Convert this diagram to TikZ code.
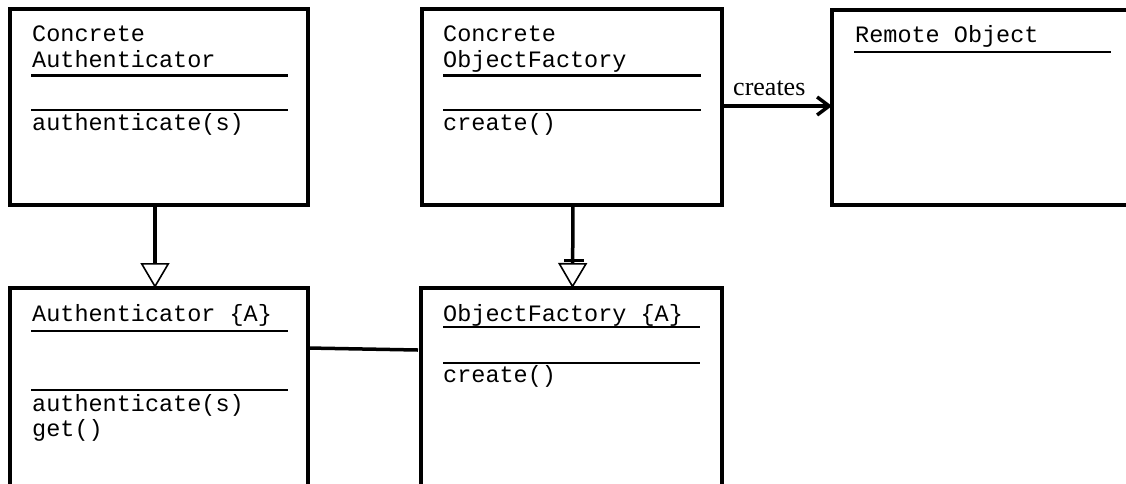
\documentclass[tikz,border=0pt]{standalone}
\usepackage{fontspec}
\setmainfont{Liberation Serif}
\setmonofont{Liberation Mono}
\usetikzlibrary{arrows.meta,calc}
\begin{document}
\begin{tikzpicture}[x=1pt,y=-1pt,
  classbox/.style={draw,line width=3.5pt,minimum width=#1,inner sep=0pt,outer sep=0pt,anchor=north west},
  txt/.style={anchor=base west,inner sep=0pt,font=\ttfamily\fontsize{23.5}{28}\selectfont},
  sep/.style={line width=2.2pt},
  inh/.style={line width=3.5pt,-{Triangle[open,width=29pt,length=25pt,line width=1.6pt]}},
  assoc/.style={line width=3.5pt},
  creates/.style={line width=3.5pt,-{Straight Barb[length=12pt,width=18pt,line width=3.5pt]}},
  lbl/.style={inner sep=0pt,anchor=base west,font=\fontsize{26}{30}\selectfont}]
\useasboundingbox (0,0) rectangle (1126,483);
\clip (0,0) rectangle (1126,483);
% class boxes
\node[classbox=298pt,minimum height=196pt] (ca) at (10,9) {};
\node[classbox=300pt,minimum height=196pt] (cof) at (422,9) {};
\node[classbox=310pt,minimum height=195pt] (ro) at (832,10) {};
\node[classbox=298pt,minimum height=230pt] (a) at (10,288) {};
\node[classbox=301pt,minimum height=230pt] (of) at (421,288) {};
% texts
\node[txt] (t1) at (32,41) {Concrete};
\node[txt] (t2) at (32,67) {Authenticator};
\node[txt] (t3) at (32,130) {authenticate(s)};
\node[txt] (t4) at (443,41) {Concrete};
\node[txt] (t5) at (443,67) {ObjectFactory};
\node[txt] (t6) at (443,130) {create()};
\node[txt] (t7) at (855,42) {Remote Object};
\node[txt] (t8) at (32,321) {Authenticator \{A\}};
\node[txt] (t9) at (32,411) {authenticate(s)};
\node[txt] (t10) at (32,436) {get()};
\node[txt] (t11) at (443,321) {ObjectFactory \{A\}};
\node[txt] (t12) at (443,382) {create()};
% compartment lines
\draw[sep] (31,75.5) -- (288,75.5) (31,110) -- (288,110);
\draw[sep] (443,75.5) -- (701,75.5) (443,110) -- (701,110);
\draw[sep] (854,52) -- (1111,52);
\draw[sep] (31,331) -- (288,331) (31,390) -- (288,390);
\draw[sep] (443,327) -- (700,327) (443,363) -- (700,363);
% connectors
\draw[inh] ([xshift=-4pt]ca.south) -- ([xshift=-4pt]a.north);
\draw[inh] ([xshift=1pt]cof.south) -- ([xshift=1pt]of.north);
\draw[line width=3pt] (564,260.5) -- (584,260.5);
\draw[assoc] ($(a.north east)+(0,60)$) -- ($(of.north west)+(-3,62)$);
\draw[creates] ($(cof.north east)+(0,97)$) -- ($(ro.north west)+(0,96)$);
\node[lbl] (cr) at (733,95) {creates};
\end{tikzpicture}
\end{document}
